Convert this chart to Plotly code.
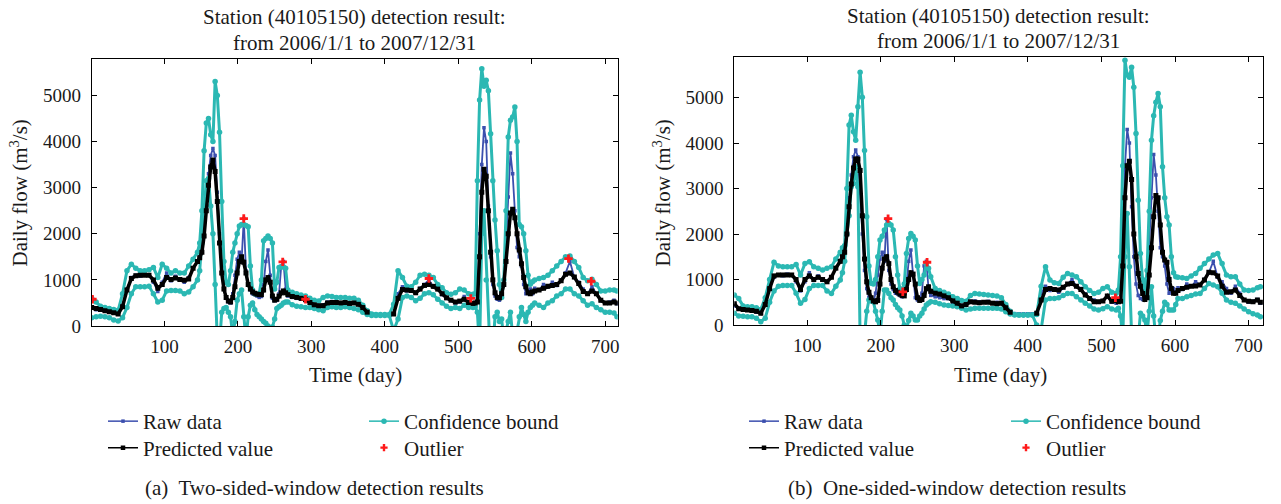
import plotly.graph_objects as go

# ---------------- data ----------------
DAYS = (list(range(1, 146, 6)) + list(range(148, 269, 3)) + list(range(274, 521, 6))
        + list(range(523, 605, 3)) + list(range(610, 713, 6)) + [716])

RAW = [420, 350, 380, 330, 300, 280, 260, 450, 800, 1050, 1100, 1080, 1120, 1100, 950, 750, 950, 1150, 980, 1080, 1000, 950, 1050, 1250, 1400,
       1500, 1600, 2100, 2800, 3300, 3700, 3850, 3700, 2900, 2000,
       1200, 800, 600, 520, 500, 700, 1100, 1450, 1600, 1400,
       2330, 1200, 900, 780, 700, 680, 650, 620, 640, 900,
       1400, 1650, 1100, 600, 550, 560, 700, 1300, 1400, 800, 650,
       620, 600, 580, 580, 500, 450, 430, 460, 520, 530,
       510, 500, 520, 480, 500, 470, 390, 300, 250, 250,
       250, 250, 250, 260, 700, 850, 760, 780, 720, 820,
       900, 1000, 850, 800, 680, 600, 550, 500, 520, 640,
       500, 480,
       500, 600, 2000, 3500, 4300, 4000, 2600, 1500, 900, 650,
       580, 560, 700, 1000, 1800, 2800, 3750, 3300, 2500, 1700,
       1500, 1300, 900, 700, 750, 800, 700, 820,
       780, 900, 850, 950, 880, 1000, 1150, 1400, 1050, 950, 800, 700, 850, 700, 550, 500, 520, 560, 480]

PRED_A = [400, 380, 360, 330, 310, 290, 260, 420, 780, 1030, 1090, 1100, 1100, 1100, 1000, 820, 900, 1050, 1010, 1040, 1010, 990, 1020, 1250, 1400,
          1480, 1600, 1950, 2500, 3050, 3450, 3600, 3350, 2700, 1800,
          1150, 800, 620, 540, 520, 620, 850, 1150, 1400, 1500,
          1380, 1150, 900, 800, 740, 710, 690, 680, 680, 780,
          1000, 1050, 950, 650, 560, 580, 650, 720, 760, 720, 680,
          640, 620, 600, 570, 510, 460, 440, 440, 500, 510,
          510, 500, 510, 490, 500, 470, 400, 300, None, None,
          None, None, None, 260, 600, 790, 780, 770, 720, 800,
          880, 900, 860, 800, 700, 610, 560, 520, 540, 580,
          510, 490,
          500, 520, 1500, 2900, 3400, 3250, 2500, 1600, 1000, 720,
          620, 610, 700, 900, 1400, 2000, 2450, 2530, 2350, 2000,
          1650, 1350, 1050, 850, 720, 700, 740, 760,
          780, 820, 860, 880, 900, 980, 1120, 1150, 1060, 920, 750, 700, 760, 700, 560, 500, 500, 520, 500]

UPPER_A = [600, 520, 430, 400, 380, 360, 340, 700, 1200, 1340, 1250, 1200, 1200, 1220, 1270, 1050, 1340, 1250, 1150, 1200, 1150, 1150, 1300, 1450, 1600,
           1800, 2500, 3800, 4400, 4500, 4150, 4000, 5300, 5000, 4200,
           2700, 1400, 950, 900, 1200, 1600, 1800, 2000, 2170, 2200,
           2200, 2180, 2150, 1300, 780, 700, 690, 700, 1000, 1850,
           1900, 1950, 1900, 1800, 800, 950, 1270, 1280, 1280, 1250, 780,
           730, 700, 670, 650, 600, 560, 540, 620, 650, 640,
           620, 620, 620, 600, 600, 560, 450, 330, 260, 250,
           250, 250, 250, 470, 1200, 1050, 860, 850, 950, 1100,
           1120, 1100, 1050, 900, 830, 720, 690, 720, 800, 780,
           700, 690,
           700, 3150, 4900, 5580, 5200, 5330, 5100, 4170, 3150, 2300,
           1630, 900, 620, 1000, 2500, 4100, 4460, 4530, 4750, 4000,
           2200, 2150, 2000, 1630, 1100, 906, 960, 1000,
           1030, 1050, 1100, 1200, 1300, 1400, 1500, 1520, 1400, 1270, 1050, 980, 1014, 900, 760, 760, 780, 780, 760]

LOWER_A = [180, 200, 210, 200, 180, 130, 110, 180, 400, 700, 850, 850, 850, 860, 700, 520, 560, 760, 770, 770, 760, 700, 740, 850, 1000,
           1200, 1800, 2600, 3150, 3200, 2600, 2000, 900, -300, -400,
           300, 380, 400, 300, 200, -200, 100, 560, 700, 780,
           200, -300, 200, 450, 500, 350, 250, 200, 150, 100,
           60, 0, -100, -20, 150, 380, 420, 450, 500, 520, 520,
           460, 430, 420, 400, 400, 380, 350, 330, 400, 420,
           400, 400, 420, 400, 380, 350, 300, 250, 230, 230,
           230, 230, 230, -100, 150, 620, 650, 620, 550, 600,
           700, 720, 680, 580, 500, 430, 380, 400, 380, 450,
           400, 400,
           420, 300, -500, 2000, 2500, 1000, -300, -800, -500, 200,
           300, 100, 150, -300, -100, 100, 300, -200, -400, -100,
           200, 400, 250, 100, 300, 400, 450, 500,
           450, 400, 500, 550, 650, 700, 800, 800, 700, 650, 550, 450, 480, 400, 350, 300, 300, 280, 200]

PRED_B = [470, 360, 340, 330, 320, 300, 260, 450, 800, 1080, 1100, 1100, 1100, 1100, 1000, 780, 1000, 1080, 1000, 1050, 1000, 950, 1050, 1250, 1400,
          1500, 1600, 2000, 2600, 3100, 3450, 3650, 3650, 3400, 2400,
          1450, 950, 720, 600, 530, 510, 540, 900, 1250, 1450,
          1500, 1350, 1000, 840, 760, 720, 680, 650, 640, 780,
          1000, 1150, 1120, 900, 600, 540, 560, 650, 800, 840, 740,
          700, 680, 640, 600, 530, 480, 420, 450, 510, 500,
          490, 500, 500, 480, 470, 480, 380, 280, None, None,
          None, None, None, 260, 550, 780, 800, 780, 770, 830,
          900, 910, 850, 780, 660, 580, 510, 510, 530, 640,
          520, 540,
          510, 520, 1300, 2800, 3500, 3600, 3200, 2000, 1500, 1130,
          850, 690, 560, 600, 1100, 1700, 2380, 2850, 2800, 2200,
          1600, 1430, 1380, 1000, 800, 700, 700, 760,
          800, 830, 850, 860, 880, 990, 1160, 1150, 1080, 850, 720, 730, 770, 650, 550, 520, 510, 550, 500]

UPPER_B = [660, 580, 420, 400, 400, 380, 340, 600, 1000, 1380, 1300, 1280, 1280, 1280, 1330, 1100, 1350, 1390, 1280, 1250, 1210, 1250, 1280, 1450, 1600,
           1700, 1750, 3000, 4400, 4610, 4250, 4060, 4800, 5560, 5010,
           3840, 2380, 1300, 920, 900, 1000, 1500, 1870, 1950, 2090,
           2200, 2230, 2200, 2090, 1500, 1100, 800, 695, 900, 1574,
           1900, 2010, 1950, 1870, 1300, 915, 1000, 1100, 1354, 1250, 1060,
           800, 760, 720, 680, 620, 585, 540, 520, 650, 695,
           680, 670, 660, 650, 640, 600, 450, 300, 230, 220,
           220, 220, 220, 230, 850, 1280, 990, 930, 915, 1050,
           1135, 1100, 1060, 950, 842, 760, 695, 720, 800, 842,
           720, 700,
           770, 1500, 3500, 5820, 5500, 5450, 5670, 5230, 4210, 2745,
           1574, 1000, 695, 1200, 2500, 4060, 4600, 4900, 5090, 4800,
           3480, 2800, 2380, 2200, 1500, 1150, 1060, 1050,
           1040, 1025, 1080, 1135, 1250, 1354, 1450, 1540, 1574, 1354, 1100, 1060, 1060, 900, 770, 760, 770, 820, 842]

LOWER_B = [256, 200, 190, 183, 183, 150, 73, 150, 500, 750, 850, 870, 870, 870, 700, 476, 560, 800, 870, 870, 870, 750, 695, 850, 990,
           1150, 1400, 2000, 2400, 3040, 3110, 3480, 3040, -300, -200,
           -200, 300, 550, 530, 512, 300, 110, -200, 300, 770,
           770, 695, 600, 550, 450, 380, 330, 200, 0, -100,
           100, 256, 200, 110, 110, 200, 256, 350, 440, 480, 512,
           500, 470, 440, 430, 420, 403, 370, 330, 350, 366,
           370, 366, 366, 366, 366, 350, 293, 240, 220, 220,
           220, 220, 220, 0, -100, 550, 580, 585, 600, 650,
           695, 690, 622, 550, 476, 420, 350, 330, 360, 403,
           350, 330,
           366, 200, -300, 1500, 2450, 1280, -200, -500, -500, -300,
           256, 200, 110, -200, 300, 842, 200, -300, -300, 100,
           300, 500, 450, 330, 330, 330, 450, 585,
           585, 622, 650, 680, 695, 800, 915, 880, 842, 700, 550, 500, 476, 420, 350, 293, 250, 220, 183]

OUT_A_DAY = [2, 208, 261, 292, 460, 517, 650, 681]
OUT_A_VAL = [580, 2330, 1390, 580, 1030, 600, 1460, 970]
OUT_B_DAY = [210, 230, 263, 519]
OUT_B_VAL = [2340, 730, 1380, 600]

X_TICKS = [100, 200, 300, 400, 500, 600, 700]
Y_TICKS = [0, 1000, 2000, 3000, 4000, 5000]
TITLE_1 = "Station (40105150) detection result:"
TITLE_2 = "from 2006/1/1 to 2007/12/31"
CAPTION_A = "(a)  Two-sided-window detection results"
CAPTION_B = "(b)  One-sided-window detection results"

# ---------------- style ----------------
FONT = "Liberation Serif"
TXT = "#1a1a1a"
BLUE = "#3b4fae"
CYAN = "#2bb8b3"
RED = "#ff1a1a"
W, H = 1281, 504
TS = 21  # text size

fig = go.Figure()


def add_panel(xa, ya, pred, upper, lower, oday, oval, legs):
    fig.add_trace(go.Scatter(x=DAYS, y=RAW, mode="lines+markers", name="Raw data",
                             line=dict(color=BLUE, width=1.8),
                             marker=dict(color=BLUE, size=3.5, symbol="square"),
                             xaxis=xa, yaxis=ya, showlegend=False))
    fig.add_trace(go.Scatter(x=DAYS, y=upper, mode="lines+markers", name="Confidence bound",
                             line=dict(color=CYAN, width=3),
                             marker=dict(color=CYAN, size=5.5, symbol="circle"),
                             xaxis=xa, yaxis=ya, showlegend=False))
    fig.add_trace(go.Scatter(x=DAYS, y=lower, mode="lines+markers", name="Confidence bound",
                             line=dict(color=CYAN, width=3),
                             marker=dict(color=CYAN, size=5.5, symbol="circle"),
                             xaxis=xa, yaxis=ya, showlegend=False))
    fig.add_trace(go.Scatter(x=DAYS, y=pred, mode="lines+markers", name="Predicted value",
                             line=dict(color="black", width=3.5),
                             marker=dict(color="black", size=5, symbol="square"),
                             connectgaps=False,
                             xaxis=xa, yaxis=ya, showlegend=False))
    fig.add_trace(go.Scatter(x=oday, y=oval, mode="markers", name="Outlier",
                             marker=dict(color=RED, size=7, symbol="cross"),
                             xaxis=xa, yaxis=ya, showlegend=False))
    # legend keys (thin lines as in the original legend); they hold no data
    keys = [("Raw data", BLUE, 1.5, 3.5, "square", "lines+markers"),
            ("Predicted value", "black", 1.5, 4.5, "square", "lines+markers"),
            ("Confidence bound", CYAN, 1.5, 5.5, "circle", "lines+markers"),
            ("Outlier", RED, 1.5, 6, "cross", "markers")]
    for (nm, col, lw, ms, sym, md), lg in zip(keys, legs):
        fig.add_trace(go.Scatter(x=[None], y=[None], mode=md, name=nm,
                                 line=dict(color=col, width=lw),
                                 marker=dict(color=col, size=ms, symbol=sym),
                                 xaxis=xa, yaxis=ya, legend=lg, showlegend=True))


add_panel("x", "y", PRED_A, UPPER_A, LOWER_A, OUT_A_DAY, OUT_A_VAL,
          ["legend", "legend2", "legend3", "legend4"])
add_panel("x2", "y2", PRED_B, UPPER_B, LOWER_B, OUT_B_DAY, OUT_B_VAL,
          ["legend5", "legend6", "legend7", "legend8"])

axis_common = dict(showline=True, linecolor="black", linewidth=1, mirror="ticks",
                   ticks="inside", ticklen=5, tickcolor="black", showgrid=False, zeroline=False,
                   tickfont=dict(family=FONT, size=19, color=TXT))

fig.update_layout(
    width=W, height=H, autosize=False, template="none",
    margin=dict(l=0, r=0, t=0, b=0),
    paper_bgcolor="white", plot_bgcolor="white",
    font=dict(family=FONT, size=TS, color=TXT),
    xaxis=dict(domain=[91.7 / W, 617.7 / W], range=[1, 717], tickvals=X_TICKS, anchor="y",
               ticklabelstandoff=3, **axis_common),
    yaxis=dict(domain=[1 - 326 / H, 1 - 59 / H], range=[0, 5790], tickvals=Y_TICKS, anchor="x",
               ticklabelstandoff=6, **axis_common),
    xaxis2=dict(domain=[734.3 / W, 1263.3 / W], range=[1, 720], tickvals=X_TICKS, anchor="y2",
                ticklabelstandoff=3, **axis_common),
    yaxis2=dict(domain=[1 - 325 / H, 1 - 56.7 / H], range=[0, 5900], tickvals=Y_TICKS, anchor="x2",
                ticklabelstandoff=6, **axis_common),
    showlegend=True,
)

leg_common = dict(bgcolor="rgba(0,0,0,0)", borderwidth=0, orientation="v",
                  font=dict(family=FONT, size=TS, color=TXT),
                  xanchor="left", yanchor="middle")
# (legend key, text start x in px, row centre y in px)
leg_pos = [("legend", 143, 421.5), ("legend2", 143, 448), ("legend3", 404, 421.5), ("legend4", 404, 448),
           ("legend5", 784, 421.5), ("legend6", 784, 448), ("legend7", 1046, 421.5), ("legend8", 1046, 448)]
fig.update_layout({k: dict(x=(tx - 40) / W, y=1 - cy / H, **leg_common) for k, tx, cy in leg_pos})

ann = []
for cx, y1, y2 in [(354.7, 17, 42.5), (998.8, 15.5, 40.5)]:
    for t, cy in [(TITLE_1, y1), (TITLE_2, y2)]:
        ann.append(dict(text=t, x=cx / W, y=1 - cy / H, xref="paper", yref="paper",
                        xanchor="center", yanchor="middle", showarrow=False,
                        font=dict(family=FONT, size=TS, color=TXT)))
for cx in [356, 1000]:
    ann.append(dict(text="Time (day)", x=cx / W, y=1 - 375 / H, xref="paper", yref="paper",
                    xanchor="center", yanchor="middle", showarrow=False,
                    font=dict(family=FONT, size=TS, color=TXT)))
for cx in [18.5, 661.5]:
    ann.append(dict(text="Daily flow (m<sup>3</sup>/s)", x=cx / W, y=1 - 193 / H, xref="paper", yref="paper",
                    xanchor="center", yanchor="middle", showarrow=False, textangle=-90,
                    font=dict(family=FONT, size=TS, color=TXT)))
ann.append(dict(text=CAPTION_A, x=143 / W, y=1 - 488 / H, xref="paper", yref="paper",
                xanchor="left", yanchor="middle", showarrow=False,
                font=dict(family=FONT, size=TS, color=TXT)))
ann.append(dict(text=CAPTION_B, x=786 / W, y=1 - 488 / H, xref="paper", yref="paper",
                xanchor="left", yanchor="middle", showarrow=False,
                font=dict(family=FONT, size=TS, color=TXT)))
fig.update_layout(annotations=ann)

fig.write_html("out.html", config={"displayModeBar": False},
               post_script="document.body.style.margin='0px';")
